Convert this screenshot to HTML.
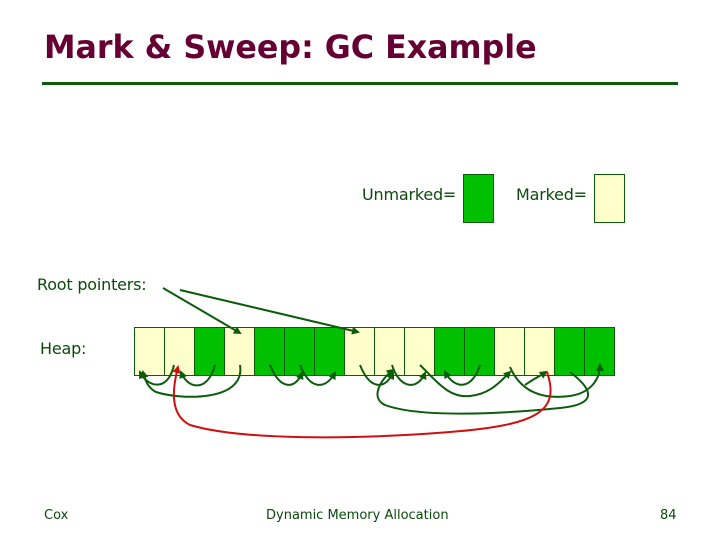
<!DOCTYPE html>
<html><head><style>
body{margin:0;width:720px;height:540px;background:#fff;position:relative;overflow:hidden;font-family:"DejaVu Sans","Liberation Sans",sans-serif}
.t{position:absolute;white-space:nowrap}
</style></head><body>
<div class="t" style="left:44px;top:30px;font-size:31.7px;font-weight:bold;color:#660033;">Mark &amp; Sweep: GC Example</div>
<div style="position:absolute;left:42px;top:82px;width:636px;height:3px;background:#0b5c0b"></div>
<div class="t" style="left:362px;top:185px;font-size:16px;color:#0b4a0b;letter-spacing:-0.2px">Unmarked=</div>
<div class="t" style="left:516px;top:185px;font-size:16px;color:#0b4a0b;letter-spacing:-0.2px">Marked=</div>
<div class="t" style="left:37px;top:275px;font-size:16px;color:#0b4a0b;letter-spacing:-0.2px">Root pointers:</div>
<div class="t" style="left:40px;top:339px;font-size:16px;color:#0b4a0b;letter-spacing:-0.2px">Heap:</div>
<div class="t" style="left:44px;top:508px;font-size:13px;color:#0b4a0b">Cox</div>
<div class="t" style="left:266px;top:508px;font-size:13px;color:#0b4a0b">Dynamic Memory Allocation</div>
<div class="t" style="left:660px;top:508px;font-size:13px;color:#0b4a0b">84</div>
<svg width="720" height="540" style="position:absolute;left:0;top:0">
<defs>
<marker id="g" markerWidth="8" markerHeight="8" refX="6" refY="4" orient="auto" markerUnits="userSpaceOnUse"><path d="M0,0L8,4L0,8z" fill="#0b5c0b"/></marker>
<marker id="r" markerWidth="8" markerHeight="8" refX="6" refY="4" orient="auto" markerUnits="userSpaceOnUse"><path d="M0,0L8,4L0,8z" fill="#d01010"/></marker>
</defs>
<rect x="463.5" y="174.5" width="30" height="48" fill="#00c000" stroke="#0b5c0b"/>
<rect x="594.5" y="174.5" width="30" height="48" fill="#ffffcc" stroke="#0b5c0b"/>
<g stroke="#0b5c0b" stroke-width="1">
<rect x="134.5" y="327.5" width="30" height="48" fill="#ffffcc"/>
<rect x="164.5" y="327.5" width="30" height="48" fill="#ffffcc"/>
<rect x="194.5" y="327.5" width="30" height="48" fill="#00c000"/>
<rect x="224.5" y="327.5" width="30" height="48" fill="#ffffcc"/>
<rect x="254.5" y="327.5" width="30" height="48" fill="#00c000"/>
<rect x="284.5" y="327.5" width="30" height="48" fill="#00c000"/>
<rect x="314.5" y="327.5" width="30" height="48" fill="#00c000"/>
<rect x="344.5" y="327.5" width="30" height="48" fill="#ffffcc"/>
<rect x="374.5" y="327.5" width="30" height="48" fill="#ffffcc"/>
<rect x="404.5" y="327.5" width="30" height="48" fill="#ffffcc"/>
<rect x="434.5" y="327.5" width="30" height="48" fill="#00c000"/>
<rect x="464.5" y="327.5" width="30" height="48" fill="#00c000"/>
<rect x="494.5" y="327.5" width="30" height="48" fill="#ffffcc"/>
<rect x="524.5" y="327.5" width="30" height="48" fill="#ffffcc"/>
<rect x="554.5" y="327.5" width="30" height="48" fill="#00c000"/>
<rect x="584.5" y="327.5" width="30" height="48" fill="#00c000"/>
</g>
<g stroke="#0b5c0b" stroke-width="2" fill="none" marker-end="url(#g)">
<path d="M163,288L240,333"/>
<path d="M180,290L358,332"/>
<path d="M174,365C168,392 148,388 140,372"/>
<path d="M215,365C208,392 188,390 181,372"/>
<path d="M240,365C246,402 180,400 156,392C148,388 145,380 143,372"/>
<path d="M270,365C280,390 295,390 302,373"/>
<path d="M300,365C310,390 325,390 335,373"/>
<path d="M360,365C370,390 385,390 393,373"/>
<path d="M392,365C400,390 418,390 425,373"/>
<path d="M420,365C440,385 450,398 470,396C490,394 500,382 510,372"/>
<path d="M480,365C472,390 455,390 445,372"/>
<path d="M510,367C520,390 540,400 570,396C590,393 600,380 600,365"/>
<path d="M525,385C532,380 540,376 546,372"/>
<path d="M570,372C600,395 590,405 560,408C500,414 420,418 385,405C370,398 380,380 393,370"/>
</g>
<path d="M547,372C560,410 540,425 450,432C350,440 240,440 190,425C170,415 172,390 178,367" stroke="#d01010" stroke-width="2" fill="none" marker-end="url(#r)"/>
</svg>
</body></html>
